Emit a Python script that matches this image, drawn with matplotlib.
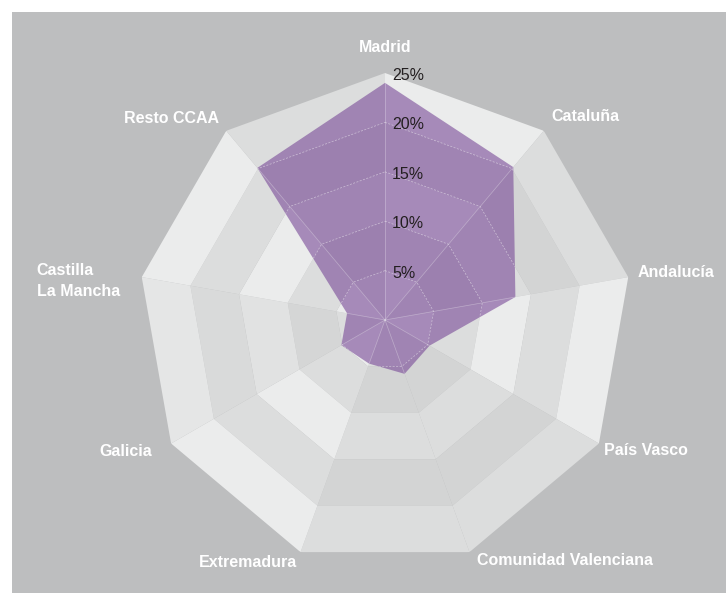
import numpy as np
import matplotlib
matplotlib.use('Agg')
import matplotlib.pyplot as plt
from matplotlib.patches import Rectangle

plt.rcParams['font.family'] = ['Liberation Sans', 'DejaVu Sans']

# datos (porcentaje por comunidad)
categorias = ['Madrid', 'Cataluña', 'Andalucía', 'País Vasco', 'Comunidad Valenciana',
              'Extremadura', 'Galicia', 'Castilla\nLa Mancha', 'Resto CCAA']
valores = [24.0, 20.2, 13.4, 5.2, 5.8, 4.7, 5.1, 3.9, 20.1]
anillos = [5, 10, 15, 20, 25]
etiquetas_anillos = ['5%', '10%', '15%', '20%', '25%']

# tonos de fondo por sector (de dentro hacia fuera)
L, M, D = '#ebecec', '#dcdddd', '#d3d4d4'
tipo_a = [L, M, L, M, L]
tipo_b = [M, D, M, D, M]
tipo_c = ['#dcdddd', '#d5d6d6', '#e1e2e2', '#d9dada', '#e5e6e6']
tonos = [tipo_a, tipo_b, tipo_a, tipo_b, tipo_b, tipo_a, tipo_c, tipo_a, tipo_b]

# desplazamientos de las etiquetas (pixeles) y alineacion
offsets = [(0, 25), (8, 14), (9, 5), (5, -7), (8, -8), (-3, -10), (-19, -8), (-22, -4), (-7, 12)]
alineacion = ['center', 'left', 'left', 'left', 'left', 'right', 'right', 'right', 'right']

n = len(categorias)
ang = np.arange(n) * 2 * np.pi / n

fig = plt.figure(figsize=(7.26, 5.93), dpi=100)
fondo = fig.add_axes([0, 0, 1, 1])
fondo.set_axis_off()
fondo.add_patch(Rectangle((12 / 726, 0), 1, 1 - 12 / 593, transform=fondo.transAxes,
                          facecolor='#bdbebf', edgecolor='none'))

ax = fig.add_axes([138 / 726, 26 / 593, 494 / 726, 494 / 593], polar=True)
ax.set_theta_zero_location('N')
ax.set_theta_direction(-1)
ax.set_ylim(0, 25)
ax.set_axis_off()
ax.patch.set_alpha(0)

# bandas de fondo
for k in range(n):
    t0, t1 = ang[k], ang[(k + 1) % n]
    if k == n - 1:
        t1 = 2 * np.pi
    for b in range(len(anillos)):
        r0 = anillos[b] - 5
        r1 = anillos[b]
        ax.fill([t0, t0, t1, t1], [r0, r1, r1, r0], color=tonos[k][b], lw=0)

# serie
t = np.append(ang, ang[0])
v = np.append(valores, valores[0])
poly = ax.fill(t, v, color='#784997', alpha=0.6, lw=0, zorder=3)[0]

# rejilla visible solo dentro del area
for r in anillos[:-1]:
    ln, = ax.plot(t, [r] * len(t), color='white', lw=0.5, ls=(0, (3, 2)), alpha=0.5, zorder=4)
    ln.set_clip_path(poly)
for a in ang:
    ln, = ax.plot([a, a], [0, 25], color='white', lw=0.5, alpha=0.35, zorder=4)
    ln.set_clip_path(poly)

for r, txt in zip(anillos, etiquetas_anillos):
    ax.annotate(txt, xy=(0, r), xytext=(7, -2.5), textcoords='offset pixels',
                ha='left', va='center', fontsize=11.5, color='#231f20', zorder=5,
                annotation_clip=False)

for k, cat in enumerate(categorias):
    ax.annotate(cat, xy=(ang[k], 25), xytext=offsets[k], textcoords='offset pixels',
                ha=alineacion[k], va='center', ma='left', fontsize=11.5, fontweight='bold',
                color='white', annotation_clip=False, linespacing=1.45)

fig.savefig('out.png', dpi=100)
